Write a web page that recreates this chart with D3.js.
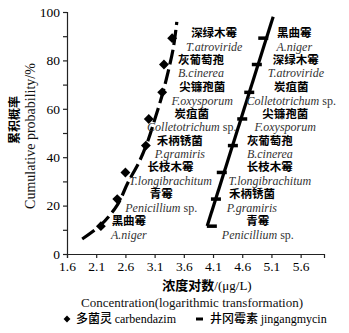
<!DOCTYPE html>
<html>
    <head>
        <meta charset="utf-8">
        <script src="https://cdn.jsdelivr.net/npm/d3@7"></script>
        <style>
            body { margin: 0; background: white; }
        </style>
        <script>
            // cumulative probability (%) of each fungus, shared by both fungicides
            var probs = [11.5, 22.7, 33.7, 44.8, 55.8, 66.8, 78.3, 89.2];

            // carbendazim: log concentration per fungus (sorted)
            var carbLog = [2.18, 2.46, 2.6, 2.95, 3.0, 3.23, 3.26, 3.4];
            var carbNames = ["黑曲霉", "青霉", "长枝木霉", "禾柄锈菌", "炭疽菌", "尖镰孢菌", "灰葡萄孢", "深绿木霉"];
            var carbLatin = ["A.niger", "Penicillium sp.", "T.longibrachitum", "P.gramiris", "Colletotrichum sp.", "F.oxysporum", "B.cinerea", "T.atroviride"];
            // fitted curve
            var carbFitX = [1.86, 2.18, 2.46, 2.64, 2.85, 2.99, 3.11, 3.23, 3.33, 3.42, 3.48];
            var carbFitY = [6.2, 12, 20.2, 29.3, 38.8, 47.1, 56.2, 65.7, 75.2, 85.1, 95.9];

            // jingangmycin
            var jingLog = [4.08, 4.15, 4.25, 4.44, 4.6, 4.72, 4.85, 4.96];
            var jingNames = ["青霉", "禾柄锈菌", "长枝木霉", "灰葡萄孢", "尖镰孢菌", "炭疽菌", "深绿木霉", "黑曲霉"];
            var jingLatin = ["Penicillium sp.", "P.gramiris", "T.longibrachitum", "B.cinerea", "F.oxysporum", "Colletotrichum sp.", "T.atroviride", "A.niger"];
            var jingFitX = [4.0, 5.13];
            var jingFitY = [11.6, 98];

            var xTicks = [1.6, 2.1, 2.6, 3.1, 3.6, 4.1, 4.6, 5.1, 5.6];
            var yTicks = [0, 10, 20, 30, 40, 50, 60, 70, 80, 90, 100];
            var yLabels = [0, 20, 40, 60, 80, 100];

            function makeSVG() {
                var svg = d3.select("body").append("svg")
                                           .attr("width", 349)
                                           .attr("height", 333);

                var serif = "Liberation Serif, Times New Roman, serif";
                var cjk = "Noto Sans CJK SC, sans-serif";

                var scX = d3.scaleLinear().domain([1.6, 6.0]).range([67, 324]);
                var scY = d3.scaleLinear().domain([0, 100]).range([254, 12]);

                // label nudges (px), left series then right series
                var carbDx = [28, 44, 45, 34, 43, 40, 37, 42];
                var jingDx = [46, 36, 48, 37, 43, 42, 39, 31];

                // axes
                var xAx = svg.append("g")
                             .attr("transform", "translate(0," + scY(0) + ")")
                             .call(d3.axisBottom(scX).tickValues(xTicks).tickSize(4).tickFormat(d3.format(".1f")));
                var yAx = svg.append("g")
                             .attr("transform", "translate(" + scX(1.6) + ",0)")
                             .call(d3.axisLeft(scY).tickValues(yTicks).tickSize(4)
                                     .tickFormat(d => yLabels.indexOf(d) >= 0 ? d : ""));
                [xAx, yAx].forEach(function (ax) {
                    ax.select(".domain").attr("stroke", "#222").attr("stroke-width", 1.2);
                    ax.selectAll(".tick line").attr("stroke", "#222").attr("stroke-width", 1.2);
                    ax.selectAll("text")
                      .style("font-family", serif)
                      .style("font-size", "13.5px")
                      .attr("fill", "#000");
                });

                // carbendazim fitted curve (dashed)
                var carbFit = carbFitX.map((x, i) => [x, carbFitY[i]]);
                var line = d3.line().x(d => scX(d[0])).y(d => scY(d[1])).curve(d3.curveCatmullRom);
                svg.append("path")
                   .attr("d", line(carbFit))
                   .attr("fill", "none")
                   .attr("stroke", "black")
                   .attr("stroke-width", 3.2)
                   .attr("stroke-dasharray", "15,5");

                svg.append("g")
                   .selectAll("path").data(carbLog)
                   .enter()
                   .append("path")
                   .attr("d", d3.symbol(d3.symbolDiamond2, 62))
                   .attr("transform", (d, i) => "translate(" + scX(d) + "," + scY(probs[i]) + ")")
                   .attr("fill", "black");

                // jingangmycin fitted line and bar markers
                var jingFit = jingFitX.map((x, i) => [x, jingFitY[i]]);
                svg.append("path")
                   .attr("d", d3.line().x(d => scX(d[0])).y(d => scY(d[1]))(jingFit))
                   .attr("fill", "none")
                   .attr("stroke", "black")
                   .attr("stroke-width", 3.2);

                svg.append("g")
                   .selectAll("line").data(jingLog)
                   .enter()
                   .append("line")
                   .attr("x1", d => scX(d) - 5)
                   .attr("x2", d => scX(d) + 5)
                   .attr("y1", (d, i) => scY(probs[i]))
                   .attr("y2", (d, i) => scY(probs[i]))
                   .attr("stroke", "black")
                   .attr("stroke-width", 3.5);

                // labels: Chinese name over Latin name, one text per fungus
                function addLabels(xs, names, latin, dx) {
                    var g = svg.append("g").attr("text-anchor", "middle");
                    xs.forEach(function (v, i) {
                        var cx = scX(v) + dx[i];
                        var cy = scY(probs[i]) + 1.5;
                        var t = g.append("text");
                        t.append("tspan")
                         .attr("x", cx)
                         .attr("y", cy - 2.5)
                         .style("font-family", cjk)
                         .style("font-weight", 700)
                         .style("font-size", "11.5px")
                         .attr("fill", "#000")
                         .text(names[i]);
                        var parts = latin[i].split(" sp.");
                        t.append("tspan")
                         .attr("x", cx)
                         .attr("y", cy + 11)
                         .style("font-family", serif)
                         .style("font-size", "12px")
                         .style("font-style", "italic")
                         .attr("fill", "#333")
                         .text(parts[0]);
                        if (parts.length > 1) {
                            t.append("tspan")
                             .style("font-family", serif)
                             .style("font-size", "12px")
                             .attr("fill", "#333")
                             .text(" sp.");
                        }
                    });
                }
                addLabels(carbLog, carbNames, carbLatin, carbDx);
                addLabels(jingLog, jingNames, jingLatin, jingDx);

                // axis titles
                svg.append("text")
                   .attr("transform", "translate(15,120) rotate(-90)")
                   .attr("text-anchor", "middle")
                   .attr("dy", "0.35em")
                   .style("font-family", cjk)
                   .style("font-weight", 700)
                   .style("font-size", "12px")
                   .attr("fill", "#000")
                   .text("累积概率");
                svg.append("text")
                   .attr("transform", "translate(30,136) rotate(-90)")
                   .attr("text-anchor", "middle")
                   .attr("dy", "0.35em")
                   .style("font-family", serif)
                   .style("font-size", "14px")
                   .attr("fill", "#111")
                   .text("Cumulative probability/%");

                var xt = svg.append("text")
                            .attr("x", 207)
                            .attr("y", 285)
                            .attr("dy", "0.35em")
                            .attr("text-anchor", "middle")
                            .style("font-size", "13px")
                            .attr("fill", "#000");
                xt.append("tspan").style("font-family", cjk).style("font-weight", 700).text("浓度对数");
                xt.append("tspan").style("font-family", serif).text("/(μg/L)");

                svg.append("text")
                   .attr("x", 192)
                   .attr("y", 302)
                   .attr("dy", "0.35em")
                   .attr("text-anchor", "middle")
                   .style("font-family", serif)
                   .style("font-size", "13px")
                   .attr("fill", "#111")
                   .text("Concentration(logarithmic transformation)");

                // legend
                var lg = svg.append("g");
                lg.append("path")
                  .attr("d", d3.symbol(d3.symbolDiamond2, 30))
                  .attr("transform", "translate(67,319)")
                  .attr("fill", "black");
                var l1 = lg.append("text")
                           .attr("x", 76).attr("y", 319).attr("dy", "0.35em")
                           .style("font-size", "12px").attr("fill", "#000");
                l1.append("tspan").style("font-family", cjk).style("font-weight", 500).text("多菌灵 ");
                l1.append("tspan").style("font-family", serif).text("carbendazim");

                lg.append("line")
                  .attr("x1", 196).attr("x2", 203)
                  .attr("y1", 319).attr("y2", 319)
                  .attr("stroke", "black").attr("stroke-width", 3);
                var l2 = lg.append("text")
                           .attr("x", 210).attr("y", 319).attr("dy", "0.35em")
                           .style("font-size", "12px").attr("fill", "#000");
                l2.append("tspan").style("font-family", cjk).style("font-weight", 500).text("井冈霉素 ");
                l2.append("tspan").style("font-family", serif).text("jingangmycin");
            }
        </script>
    </head>
    <body onload="makeSVG()">
    </body>
</html>
